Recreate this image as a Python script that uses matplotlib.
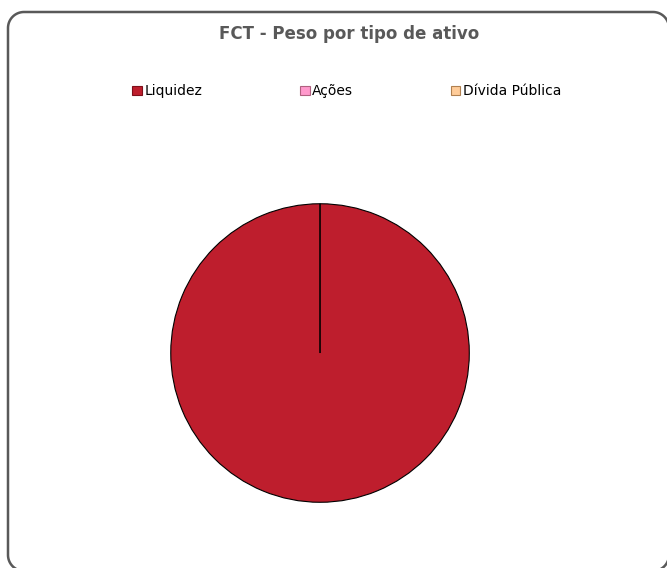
import numpy as np
import matplotlib.pyplot as plt
from matplotlib.lines import Line2D
from matplotlib.patches import Patch

categorias = ["Liquidez", "Ações", "Dívida Pública"]
pesos = [100.0, 0.0, 0.0]
cores = ["#BE1E2D", "#FF99CC", "#FFCC99"]
bordas = ["#7F0F1A", "#B0607F", "#B08050"]

W, H = 667, 568
fig = plt.figure(figsize=(W / 100, H / 100), dpi=100, facecolor="white")


def moldura_xy(x0, y0, x1, y1, r, n=20):
    """contorno de um retangulo de cantos arredondados, em pixeis"""
    xs, ys = [], []
    cantos = [(x1 - r, y1 - r, 0), (x0 + r, y1 - r, 90),
              (x0 + r, y0 + r, 180), (x1 - r, y0 + r, 270)]
    for cx, cy, a0 in cantos:
        t = np.radians(np.linspace(a0, a0 + 90, n))
        xs.extend(cx + r * np.cos(t))
        ys.extend(cy + r * np.sin(t))
    xs.append(xs[0])
    ys.append(ys[0])
    return np.array(xs), np.array(ys)


# moldura arredondada, corta à direita e em baixo como no original
mx, my = moldura_xy(8, -3, 669, 556, 16)
fig.add_artist(Line2D(mx / W, my / H, transform=fig.transFigure,
                      color="#595959", linewidth=1.8, zorder=5))

ax = fig.add_axes([0.2549, 0.1144, 0.4498, 0.5282])
fatias, _ = ax.pie(pesos, colors=cores, startangle=90, counterclock=False,
                   wedgeprops=dict(edgecolor="black", linewidth=0.8))
ax.set_xlim(-1.005, 1.005)
ax.set_ylim(-1.005, 1.005)
ax.set_aspect("equal")

fig.text(0.523, 0.94, "FCT - Peso por tipo de ativo", ha="center", va="center",
         fontsize=12, fontweight="bold", color="#595959")

handles = [Patch(facecolor=c, edgecolor=b, linewidth=0.8) for c, b in zip(cores, bordas)]
fig.legend(handles, categorias, loc="center", bbox_to_anchor=(0.52, 0.839), ncol=3,
           frameon=False, fontsize=10, handlelength=0.7, handleheight=0.7,
           handletextpad=0.2, columnspacing=7.0)

fig.savefig("out.png", dpi=100)
